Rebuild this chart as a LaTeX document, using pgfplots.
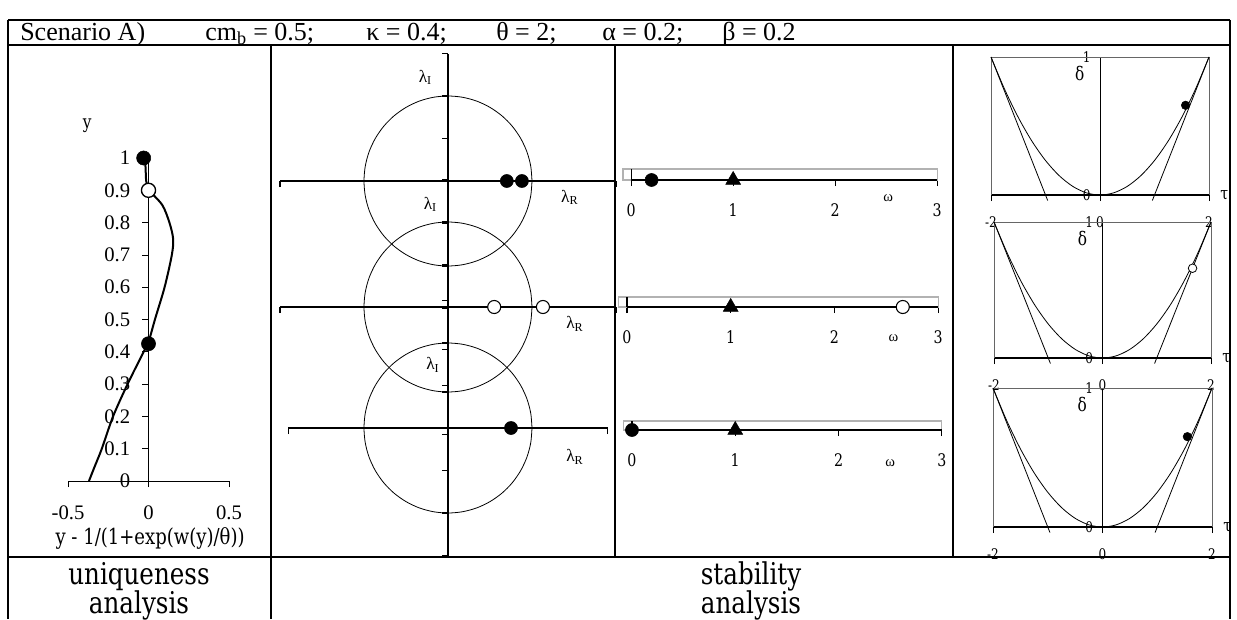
\documentclass[border=0pt]{standalone}
\usepackage{fontspec}
\setmainfont{Liberation Serif}
\newfontfamily\cam{DejaVu Serif}[FakeStretch=0.82]
\usepackage{pgfplots}
\pgfplotsset{compat=1.18}
\usepackage{pgfplotstable}

\pgfplotstableread{
x y
1.000 0.000
0.985 0.174
0.940 0.342
0.866 0.500
0.766 0.643
0.643 0.766
0.500 0.866
0.342 0.940
0.174 0.985
0.000 1.000
-0.174 0.985
-0.342 0.940
-0.500 0.866
-0.643 0.766
-0.766 0.643
-0.866 0.500
-0.940 0.342
-0.985 0.174
-1.000 0.000
-0.985 -0.174
-0.940 -0.342
-0.866 -0.500
-0.766 -0.643
-0.643 -0.766
-0.500 -0.866
-0.342 -0.940
-0.174 -0.985
0.000 -1.000
0.174 -0.985
0.342 -0.940
0.500 -0.866
0.643 -0.766
0.766 -0.643
0.866 -0.500
0.940 -0.342
0.985 -0.174
1.000 0.000
}\unitcircle

\pgfplotstableread{
t d
-2 1
-1.75 0.7656
-1.5 0.5625
-1.25 0.3906
-1 0.25
-0.75 0.1406
-0.5 0.0625
-0.25 0.0156
0 0
0.25 0.0156
0.5 0.0625
0.75 0.1406
1 0.25
1.25 0.3906
1.5 0.5625
1.75 0.7656
2 1
}\parab

\pgfplotstableread{
x y
-0.37 0.00
-0.33 0.05
-0.29 0.10
-0.22 0.20
-0.13 0.30
-0.03 0.40
0.00 0.43
0.04 0.50
0.10 0.60
0.145 0.70
0.153 0.75
0.13 0.80
0.085 0.855
0.00 0.90
}\ucurve

\pgfplotsset{
  base/.style={scale only axis, anchor=south west, clip=false, enlargelimits=false,
    hide obscured x ticks=false, hide obscured y ticks=false},
  circax/.style={base, axis lines=middle, axis line style={-, line width=0.9pt},
    ytick={-1.5,-1,-0.5,0,0.5,1,1.5}, yticklabels={}, xticklabels={},
    tick align=outside, major tick length=4.5pt, tick style={black, line width=0.9pt},
    ymin=-1.5, ymax=1.5, height=191.25pt},
  omax/.style={base, xmin=-0.08, xmax=3, ymin=0, ymax=1,
    axis line style={gray!60, line width=0.8pt},
    xtick={0,1,2,3}, xticklabels={0,1,2,3}, ytick=\empty, xtick pos=left,
    tick align=outside, major tick length=4.5pt, tick style={black, line width=0.8pt},
    xticklabel style={font=\cam\fontsize{13}{13}\selectfont, anchor=center, inner sep=0pt, yshift=-18pt}},
  dax/.style={base, xmin=-2, xmax=2, ymin=0, ymax=1,
    axis x line=bottom, axis y line=middle, axis line style={-, line width=0.6pt},
    x axis line style={line width=1.3pt},
    xtick={-2,0,2}, xticklabels={-2,0,2}, ytick={0,1}, yticklabels={0,1},
    xtick align=outside, ytick align=inside, major tick length=4.5pt,
    xtick style={black, line width=0.6pt}, ytick style={draw=none},
    xticklabel style={font=\cam\fontsize{11}{11}\selectfont, anchor=center, inner sep=0pt, yshift=-15.75pt},
    yticklabel style={font=\cam\fontsize{11}{11}\selectfont, anchor=east, inner sep=0pt, xshift=-7pt}},
}

\begin{document}
\begin{tikzpicture}[x=0.75pt, y=0.75pt]
\useasboundingbox (0,0) rectangle (1237,619);

% table rules
\draw[line width=1.6pt] (8,599) -- (1230,599);
\draw[line width=1.6pt] (8,574) -- (1230,574);
\draw[line width=1.6pt] (8,62) -- (1230,62);
\draw[line width=1.6pt] (8,599) -- (8,0);
\draw[line width=1.6pt] (1230,599) -- (1230,0);
\draw[line width=1.6pt] (271,574) -- (271,0);
\draw[line width=1.6pt] (615,574) -- (615,62);
\draw[line width=1.6pt] (953,574) -- (953,62);

% title
\begin{scope}[every node/.style={anchor=base west, inner sep=0pt, font=\fontsize{19.5}{20}\selectfont}]
\node at (20,578.5) {Scenario A)};
\node at (205,578.5) {cm\textsubscript{b} = 0.5;};
\node at (366,578.5) {κ = 0.4;};
\node at (496,578.5) {θ = 2;};
\node at (602,578.5) {α = 0.2;};
\node at (722,578.5) {β = 0.2};
\end{scope}

% bottom row
\begin{scope}[every node/.style={anchor=base, inner sep=0pt, font=\cam\fontsize{22.5}{24}\selectfont}]
\node at (139,35) {uniqueness};
\node at (139,6) {analysis};
\node at (751,35) {stability};
\node at (751,6) {analysis};
\end{scope}

\coordinate (u1) at (68,138);
\coordinate (cA) at (280,310.5);
\coordinate (cB) at (280,184.5);
\coordinate (cC) at (288.4,63.5);
\coordinate (wA) at (623,439);
\coordinate (wB) at (618.7,312);
\coordinate (wC) at (623.7,189);
\coordinate (dA) at (991,424);
\coordinate (dB) at (994,261);
\coordinate (dC) at (993,92);

% ---------- uniqueness panel
\begin{axis}[base, at={(u1)}, width=120.75pt, height=242.25pt,
  xmin=-0.5, xmax=0.5, ymin=0, ymax=1,
  axis lines=middle, axis line style={-, line width=0.6pt},
  xtick={-0.5,0,0.5}, xticklabels={-0.5,0,0.5},
  ytick={0,0.1,0.2,0.3,0.4,0.5,0.6,0.7,0.8,0.9,1},
  yticklabels={0,0.1,0.2,0.3,0.4,0.5,0.6,0.7,0.8,0.9,1},
  tick align=outside, major tick length=4.5pt, tick style={black, line width=0.6pt},
  ticklabel style={font=\fontsize{15.5}{15.5}\selectfont, inner sep=0pt},
  xticklabel style={anchor=center, yshift=-19.5pt},
  yticklabel style={anchor=east, xshift=-9pt}]
\addplot[smooth, line width=1.5pt] table {\ucurve};
\addplot[line width=1.5pt] coordinates {(0,0.9) (-0.015,0.93) (-0.02,0.99) (-0.03,1.0)};
\addplot[only marks, mark=*, mark size=5.3pt, black] coordinates {(-0.03,1.0) (0,0.425)};
\addplot[only marks, mark=*, mark size=5.3pt, mark options={draw=black, fill=white, line width=1pt}] coordinates {(0,0.9)};
\node[font=\cam\fontsize{14}{14}\selectfont] at (axis cs:-0.38,1.10) {y};
\node[font=\cam\fontsize{16.5}{16.5}\selectfont] at (axis cs:0.01,-0.178) {y - 1/(1+exp(w(y)/θ))};
\end{axis}

% ---------- eigenvalue circles
\begin{axis}[circax, at={(cA)}, xmin=-2, xmax=2, xtick={-2,2}, width=252pt]
\addplot[line width=0.6pt, smooth] table {\unitcircle};
\addplot[only marks, mark=*, mark size=4.9pt, black] coordinates {(0.70,0) (0.88,0)};
\node[font=\fontsize{13}{13}\selectfont] at (axis cs:-0.27,1.22) {λ\textsubscript{I}};
\node[font=\fontsize{13}{13}\selectfont] at (axis cs:1.45,-0.19) {λ\textsubscript{R}};
\end{axis}

\begin{axis}[circax, at={(cB)}, xmin=-2, xmax=2, xtick={-2,2}, width=252pt]
\addplot[line width=0.6pt, smooth] table {\unitcircle};
\addplot[only marks, mark=*, mark size=4.9pt, mark options={draw=black, fill=white, line width=0.8pt}] coordinates {(0.55,0) (1.13,0)};
\node[font=\fontsize{13}{13}\selectfont] at (axis cs:-0.21,1.21) {λ\textsubscript{I}};
\node[font=\fontsize{13}{13}\selectfont] at (axis cs:1.51,-0.2) {λ\textsubscript{R}};
\end{axis}

\begin{axis}[circax, at={(cC)}, xmin=-1.9, xmax=1.9, xtick={-1.9,1.9}, width=239.4pt]
\addplot[line width=0.6pt, smooth] table {\unitcircle};
\addplot[only marks, mark=*, mark size=4.9pt, black] coordinates {(0.75,0)};
\node[font=\fontsize{13}{13}\selectfont] at (axis cs:-0.18,0.74) {λ\textsubscript{I}};
\node[font=\fontsize{13}{13}\selectfont] at (axis cs:1.51,-0.34) {λ\textsubscript{R}};
\end{axis}

% ---------- omega lines
\begin{axis}[omax, at={(wA)}, width=235.6pt, height=8.25pt]
\addplot[black, line width=0.8pt] coordinates {(0,0) (0,1)};
\addplot[black, line width=1.3pt] coordinates {(0,0) (3,0)};
\addplot[only marks, mark=*, mark size=4.9pt, black] coordinates {(0.2,0)};
\addplot[only marks, mark=triangle*, mark size=6.4pt, black] coordinates {(1,0)};
\node[font=\fontsize{11}{11}\selectfont] at (axis cs:2.52,0) [yshift=-13.5pt] {ω};
\end{axis}

\begin{axis}[omax, at={(wB)}, width=239.5pt, height=7.5pt]
\addplot[black, line width=0.8pt] coordinates {(0,0) (0,1)};
\addplot[black, line width=1.3pt] coordinates {(0,0) (3,0)};
\addplot[only marks, mark=triangle*, mark size=6.4pt, black] coordinates {(1,0)};
\addplot[only marks, mark=*, mark size=4.9pt, mark options={draw=black, fill=white, line width=0.8pt}] coordinates {(2.66,0)};
\node[font=\fontsize{11}{11}\selectfont] at (axis cs:2.57,0) [yshift=-23.25pt] {ω};
\end{axis}

\begin{axis}[omax, at={(wC)}, width=238.6pt, height=6.75pt]
\addplot[black, line width=0.8pt] coordinates {(0,0) (0,1)};
\addplot[black, line width=1.3pt] coordinates {(0,0) (3,0)};
\addplot[only marks, mark=*, mark size=4.9pt, black] coordinates {(0,0)};
\addplot[only marks, mark=triangle*, mark size=6.4pt, black] coordinates {(1,0)};
\node[font=\fontsize{11}{11}\selectfont] at (axis cs:2.50,0) [yshift=-24.75pt] {ω};
\end{axis}

% ---------- delta-tau panels
\begin{axis}[dax, at={(dA)}, width=163.5pt, height=103.5pt]
\addplot[line width=0.6pt, gray!80!black] coordinates {(-2,0) (-2,1) (2,1) (2,0)};
\addplot[line width=0.6pt, smooth] table {\parab};
\addplot[line width=0.6pt] coordinates {(-0.96,-0.04) (-2,1)};
\addplot[line width=0.6pt] coordinates {(0.96,-0.04) (2,1)};
\addplot[only marks, mark=*, mark size=3.2pt, black] coordinates {(1.57,0.65)};
\node[font=\cam\fontsize{14}{14}\selectfont] at (axis cs:-0.37,0.88) {δ};
\node[font=\cam\fontsize{13}{13}\selectfont, anchor=west] at (axis cs:2,0) [xshift=5pt] {τ};
\end{axis}

\begin{axis}[dax, at={(dB)}, width=162.75pt, height=102pt]
\addplot[line width=0.6pt, gray!80!black] coordinates {(-2,0) (-2,1) (2,1) (2,0)};
\addplot[line width=0.6pt, smooth] table {\parab};
\addplot[line width=0.6pt] coordinates {(-0.96,-0.04) (-2,1)};
\addplot[line width=0.6pt] coordinates {(0.96,-0.04) (2,1)};
\addplot[only marks, mark=*, mark size=3.2pt, mark options={draw=black, fill=white, line width=0.6pt}] coordinates {(1.66,0.66)};
\node[font=\cam\fontsize{14}{14}\selectfont] at (axis cs:-0.37,0.88) {δ};
\node[font=\cam\fontsize{13}{13}\selectfont, anchor=west] at (axis cs:2,0) [xshift=5pt] {τ};
\end{axis}

\begin{axis}[dax, at={(dC)}, width=164.25pt, height=104.25pt]
\addplot[line width=0.6pt, gray!80!black] coordinates {(-2,0) (-2,1) (2,1) (2,0)};
\addplot[line width=0.6pt, smooth] table {\parab};
\addplot[line width=0.6pt] coordinates {(-0.96,-0.04) (-2,1)};
\addplot[line width=0.6pt] coordinates {(0.96,-0.04) (2,1)};
\addplot[only marks, mark=*, mark size=3.2pt, black] coordinates {(1.55,0.65)};
\node[font=\cam\fontsize{14}{14}\selectfont] at (axis cs:-0.37,0.88) {δ};
\node[font=\cam\fontsize{13}{13}\selectfont, anchor=west] at (axis cs:2,0) [xshift=5pt] {τ};
\end{axis}

\end{tikzpicture}
\end{document}
